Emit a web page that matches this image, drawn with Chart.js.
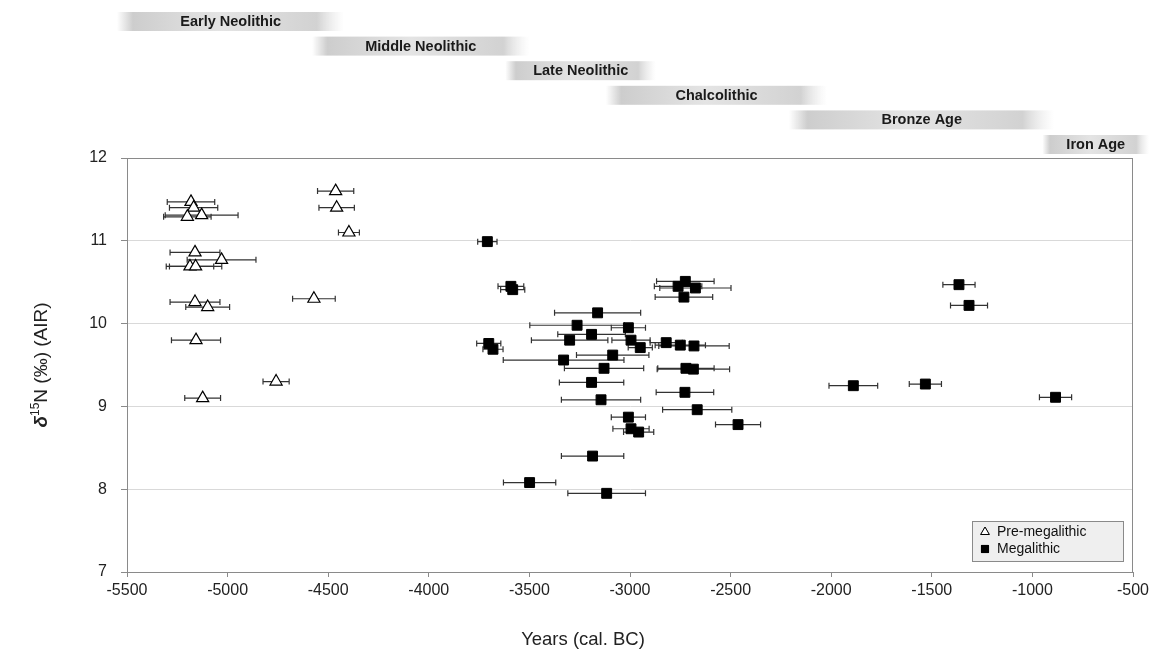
<!DOCTYPE html>
<html lang="en">
<head>
    <meta charset="UTF-8">
    <title>δ15N by date</title>
    <script src="https://cdn.jsdelivr.net/npm/chart.js@4.4.1/dist/chart.umd.min.js"></script>
    <style>
        body {
            margin: 0;
            background: #fff;
            font-family: "Liberation Sans", Arial, sans-serif;
        }
        .chart-container {
            position: relative;
            width: 1150px;
            height: 654px;
        }
    </style>
</head>
<body>
    <div class="chart-container">
        <canvas id="isoChart"></canvas>
    </div>

    <script>
        // cultural periods (years cal. BC, negative)
        const periodNames = ['Early Neolithic', 'Middle Neolithic', 'Late Neolithic', 'Chalcolithic', 'Bronze Age', 'Iron Age'];
        const periodStart = [-5550, -4580, -3620, -3120, -2210, -950];
        const periodEnd = [-4420, -3500, -2870, -2020, -890, -420];

        // pre-megalithic samples
        const preYears = [-4463, -4458, -4397, -5182, -5169, -5200, -5129, -5162, -5030, -5187, -5159, -4571, -5162, -5099, -5157, -4759, -5124];
        const preValues = [11.60, 11.40, 11.10, 11.47, 11.40, 11.29, 11.31, 10.86, 10.77, 10.69, 10.69, 10.30, 10.26, 10.20, 9.80, 9.30, 9.10];
        const preErrors = [90, 88, 52, 118, 120, 118, 181, 124, 171, 118, 130, 106, 124, 109, 122, 65, 89];

        // megalithic samples
        const megYears = [-3709, -3592, -3583, -2725, -2761, -2675, -2732, -3161, -3263, -3008,
            -3191, -3300, -2995, -2949, -2820, -2750, -2682, -3702, -3681, -3086,
            -3330, -3129, -2722, -2685, -3191, -2727, -3144, -2666, -3008, -2463,
            -2995, -2957, -3186, -3499, -3116, -1365, -1315, -1890, -1532, -885];
        const megValues = [10.99, 10.45, 10.41, 10.51, 10.45, 10.43, 10.32, 10.13, 9.98, 9.95,
            9.87, 9.80, 9.80, 9.71, 9.77, 9.74, 9.73, 9.76, 9.69, 9.62,
            9.56, 9.46, 9.46, 9.45, 9.29, 9.17, 9.08, 8.96, 8.87, 8.78,
            8.73, 8.69, 8.40, 8.08, 7.95, 10.47, 10.22, 9.25, 9.27, 9.11];
        const megErrors = [48, 64, 60, 143, 118, 177, 143, 214, 235, 85,
            168, 190, 95, 60, 80, 125, 175, 60, 50, 180,
            300, 197, 140, 180, 160, 143, 197, 172, 85, 112,
            90, 75, 155, 130, 193, 80, 92, 121, 80, 80];

        const xTicks = [-5500, -5000, -4500, -4000, -3500, -3000, -2500, -2000, -1500, -1000, -500];

        const FONT = '"Liberation Sans", Arial, sans-serif';

        function points(xs, ys) {
            return xs.map((x, i) => ({ x: x, y: ys[i] }));
        }

        // horizontal error bars, drawn under the markers
        const errorBars = {
            id: 'errorBars',
            beforeDatasetsDraw(chart) {
                const ctx = chart.ctx;
                const xs = chart.scales.x, ys = chart.scales.y;
                const sets = [[preYears, preValues, preErrors], [megYears, megValues, megErrors]];
                ctx.save();
                ctx.strokeStyle = '#333';
                ctx.lineWidth = 1.2;
                sets.forEach(([yr, val, err]) => {
                    yr.forEach((x, i) => {
                        const x0 = xs.getPixelForValue(x - err[i]);
                        const x1 = xs.getPixelForValue(x + err[i]);
                        const y = ys.getPixelForValue(val[i]);
                        ctx.beginPath();
                        ctx.moveTo(x0, y); ctx.lineTo(x1, y);
                        ctx.moveTo(x0, y - 3); ctx.lineTo(x0, y + 3);
                        ctx.moveTo(x1, y - 3); ctx.lineTo(x1, y + 3);
                        ctx.stroke();
                    });
                });
                ctx.restore();
            }
        };

        // box around plot, period bars, y title, legend
        const decorations = {
            id: 'decorations',
            afterDraw(chart) {
                const ctx = chart.ctx;
                const area = chart.chartArea;
                const xs = chart.scales.x;
                ctx.save();

                ctx.strokeStyle = '#8a8a8a';
                ctx.lineWidth = 1;
                ctx.strokeRect(area.left + 0.5, area.top + 0.5, area.right - area.left - 1, area.bottom - area.top);

                // period bars
                periodNames.forEach((name, i) => {
                    const x0 = xs.getPixelForValue(periodStart[i]);
                    const x1 = xs.getPixelForValue(periodEnd[i]);
                    const top = 12 + i * 24.6;
                    const h = 19;
                    const g = ctx.createLinearGradient(x0, 0, x1, 0);
                    g.addColorStop(0, 'rgba(205,205,205,0)');
                    g.addColorStop(0.07, 'rgba(205,205,205,1)');
                    g.addColorStop(0.45, 'rgba(228,228,228,1)');
                    g.addColorStop(0.88, 'rgba(210,210,210,1)');
                    g.addColorStop(1, 'rgba(230,230,230,0)');
                    ctx.fillStyle = g;
                    ctx.fillRect(x0, top, x1 - x0, h);
                    ctx.fillStyle = '#1a1a1a';
                    ctx.font = 'bold 14.5px ' + FONT;
                    ctx.textAlign = 'center';
                    ctx.textBaseline = 'middle';
                    ctx.fillText(name, (x0 + x1) / 2, top + h / 2 + 0.5);
                });

                // y axis title: δ15N (‰) (AIR)
                ctx.translate(40, (area.top + area.bottom) / 2);
                ctx.rotate(-Math.PI / 2);
                ctx.fillStyle = '#222';
                ctx.textBaseline = 'alphabetic';
                ctx.textAlign = 'left';
                const fDelta = 'bold italic 19px ' + FONT;
                const fSup = '12px ' + FONT;
                const fMain = '19px ' + FONT;
                ctx.font = fDelta; const w1 = ctx.measureText('δ').width;
                ctx.font = fSup; const w2 = ctx.measureText('15').width;
                ctx.font = fMain; const w3 = ctx.measureText('N (‰) (AIR)').width;
                let tx = -(w1 + w2 + w3) / 2;
                ctx.font = fDelta; ctx.fillText('δ', tx, 7); tx += w1;
                ctx.font = fSup; ctx.fillText('15', tx, -1); tx += w2;
                ctx.font = fMain; ctx.fillText('N (‰) (AIR)', tx, 7);
                ctx.setTransform(1, 0, 0, 1, 0, 0);

                // legend box
                const lx = 972, ly = 521, lw = 151, lh = 40;
                ctx.fillStyle = '#efefef';
                ctx.fillRect(lx, ly, lw, lh);
                ctx.strokeStyle = '#8a8a8a';
                ctx.strokeRect(lx + 0.5, ly + 0.5, lw, lh);
                const labels = chart.data.datasets.map(d => d.label);
                ctx.font = '14px ' + FONT;
                ctx.textBaseline = 'middle';
                ctx.fillStyle = '#111';
                labels.forEach((lab, i) => {
                    const cy = ly + 11 + i * 17;
                    const ds = chart.data.datasets[i];
                    Chart.helpers.drawPoint(ctx, {
                        pointStyle: ds.pointStyle, radius: 5,
                        borderWidth: 1, rotation: 0
                    }, lx + 13, cy);
                    ctx.fillStyle = i === 0 ? '#fff' : '#000';
                    ctx.strokeStyle = '#000';
                    ctx.fill(); ctx.stroke();
                    ctx.fillStyle = '#111';
                    ctx.fillText(lab, lx + 25, cy);
                });

                // x axis title
                ctx.font = '18.5px ' + FONT;
                ctx.textAlign = 'center';
                ctx.textBaseline = 'middle';
                ctx.fillStyle = '#222';
                ctx.fillText('Years (cal. BC)', 583, 640);
                ctx.restore();
            }
        };

        const ctx = document.getElementById('isoChart').getContext('2d');
        new Chart(ctx, {
            type: 'scatter',
            data: {
                datasets: [{
                    label: 'Pre-megalithic',
                    data: points(preYears, preValues),
                    pointStyle: 'triangle',
                    radius: 7,
                    backgroundColor: '#fff',
                    borderColor: '#000',
                    borderWidth: 1.2
                }, {
                    label: 'Megalithic',
                    data: points(megYears, megValues),
                    pointStyle: 'rect',
                    radius: 7,
                    backgroundColor: '#000',
                    borderColor: '#000',
                    borderWidth: 1
                }]
            },
            options: {
                responsive: true,
                maintainAspectRatio: false,
                animation: false,
                layout: { padding: { left: 0, right: 17, top: 158, bottom: 0 } },
                plugins: {
                    legend: { display: false },
                    tooltip: { enabled: false }
                },
                scales: {
                    x: {
                        type: 'linear',
                        min: -5500,
                        max: -500,
                        afterBuildTicks: s => { s.ticks = xTicks.map(v => ({ value: v })); },
                        afterFit: s => { s.height = 82; s.paddingLeft = 0; s.paddingRight = 0; },
                        ticks: {
                            callback: v => String(v),
                            font: { family: FONT, size: 16 },
                            color: '#222',
                            padding: 4,
                            maxRotation: 0
                        },
                        grid: { drawOnChartArea: false, tickLength: 5, color: '#8a8a8a' },
                        border: { color: '#8a8a8a' }
                    },
                    y: {
                        min: 7,
                        max: 12,
                        afterFit: s => { s.width = 127; },
                        ticks: {
                            stepSize: 1,
                            font: { family: FONT, size: 16 },
                            color: '#222',
                            padding: 14
                        },
                        grid: {
                            color: c => (c.tick.value === 7 || c.tick.value === 12) ? 'rgba(0,0,0,0)' : '#d9d9d9',
                            tickColor: '#8a8a8a',
                            tickLength: 6
                        },
                        border: { color: '#8a8a8a' }
                    }
                }
            },
            plugins: [errorBars, decorations]
        });
    </script>
</body>
</html>
